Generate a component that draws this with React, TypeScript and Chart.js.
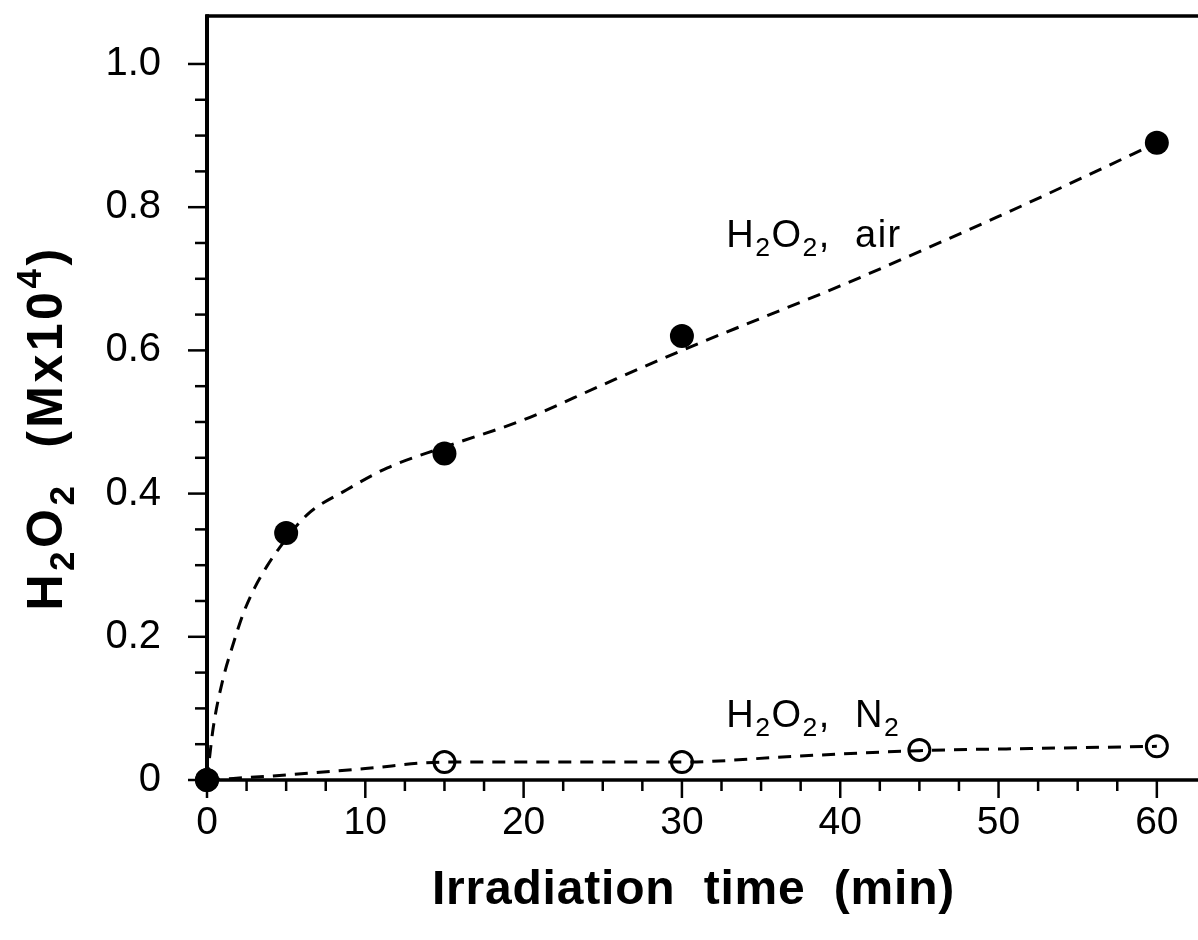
import React, { useEffect, useRef } from "react";
import { Chart, registerables } from "chart.js";

Chart.register(...registerables);

// Measured points
const airTimes = [0, 5, 15, 30, 60];
const airValues = [0, 0.345, 0.456, 0.62, 0.89];
const n2Times = [0, 15, 30, 45, 60];
const n2Values = [0, 0.025, 0.025, 0.042, 0.047];

// Dashed fitted curves
const airFitTimes = [0, 0.4, 1, 1.6, 2.3, 3, 3.8, 4.6, 6.3, 8.8, 11.4, 15, 20, 25, 30, 35, 40, 45, 50, 55, 60];
const airFitValues = [0, 0.074, 0.14, 0.186, 0.233, 0.268, 0.299, 0.325, 0.37, 0.405, 0.436, 0.465, 0.503, 0.552, 0.6, 0.645, 0.69, 0.738, 0.787, 0.838, 0.89];
const n2FitTimes = [0, 5, 10, 15, 22, 30, 37, 45, 52, 60];
const n2FitValues = [0, 0.007, 0.016, 0.025, 0.025, 0.025, 0.033, 0.041, 0.044, 0.047];

// Axes
const xMin = 0;
const xMax = 62.6;
const yMin = 0;
const yMax = 1.067;
const xMajorTicks = [0, 10, 20, 30, 40, 50, 60];
const xMinorStep = 2.5;
const yMajorTicks = [0, 0.2, 0.4, 0.6, 0.8, 1.0];
const yTickLabels = ["0", "0.2", "0.4", "0.6", "0.8", "1.0"];
const yMinorStep = 0.05;

// Text labels
type Seg = { t: string; sub?: boolean; sup?: boolean };
const airLabel: Seg[] = [{ t: "H" }, { t: "2", sub: true }, { t: "O" }, { t: "2", sub: true }, { t: ",  air" }];
const n2Label: Seg[] = [{ t: "H" }, { t: "2", sub: true }, { t: "O" }, { t: "2", sub: true }, { t: ",  N" }, { t: "2", sub: true }];
const airLabelAt = { x: 32.8, y: 0.744 };
const n2LabelAt = { x: 32.8, y: 0.074 };
const xTitle: Seg[] = [{ t: "Irradiation  time  (min)" }];
const yTitle: Seg[] = [{ t: "H" }, { t: "2", sub: true }, { t: "O" }, { t: "2", sub: true }, { t: "  (Mx10" }, { t: "4", sup: true }, { t: ")" }];

const FONT = "'Liberation Sans', Arial, Helvetica, sans-serif";

function segWidth(ctx: CanvasRenderingContext2D, segs: Seg[], size: number, weight: string, spacing: number) {
  let w = 0;
  for (const s of segs) {
    const fs = s.sub || s.sup ? size * 0.7 : size;
    ctx.font = `${weight} ${fs}px ${FONT}`;
    (ctx as any).letterSpacing = `${spacing}px`;
    w += ctx.measureText(s.t).width;
  }
  return w;
}

function drawRich(
  ctx: CanvasRenderingContext2D,
  segs: Seg[],
  x: number,
  y: number,
  size: number,
  weight: string,
  spacing: number,
  align: "left" | "center"
) {
  const total = segWidth(ctx, segs, size, weight, spacing);
  let cx = align === "center" ? x - total / 2 : x;
  ctx.textBaseline = "alphabetic";
  ctx.textAlign = "left";
  ctx.fillStyle = "#000";
  for (const s of segs) {
    const fs = s.sub || s.sup ? size * 0.7 : size;
    ctx.font = `${weight} ${fs}px ${FONT}`;
    (ctx as any).letterSpacing = `${spacing}px`;
    const dy = s.sub ? size * 0.24 : s.sup ? -size * 0.42 : 0;
    ctx.fillText(s.t, cx, y + dy);
    cx += ctx.measureText(s.t).width;
  }
  (ctx as any).letterSpacing = "0px";
}

const framePlugin = {
  id: "frame",
  beforeDatasetsDraw(chart: any) {
    const { ctx, chartArea } = chart;
    const xs = chart.scales.x;
    const ys = chart.scales.y;
    const { left, top, right, bottom } = chartArea;
    ctx.save();
    ctx.strokeStyle = "#000";
    ctx.lineCap = "butt";
    ctx.lineWidth = 2.5;
    for (let v = 0; v <= 60 + 1e-9; v += xMinorStep) {
      const px = xs.getPixelForValue(v);
      const major = Math.abs(v / 10 - Math.round(v / 10)) < 1e-6;
      ctx.beginPath();
      ctx.moveTo(px, bottom);
      ctx.lineTo(px, bottom + (major ? 18 : 11));
      ctx.stroke();
    }
    for (let v = 0; v <= 1.0 + 1e-9; v += yMinorStep) {
      const py = ys.getPixelForValue(v);
      const major = Math.abs(v / 0.2 - Math.round(v / 0.2)) < 1e-6;
      ctx.beginPath();
      ctx.moveTo(left, py);
      ctx.lineTo(left - (major ? 19 : 12), py);
      ctx.stroke();
    }
    ctx.lineWidth = 3.5;
    ctx.beginPath();
    ctx.moveTo(left - 1, top);
    ctx.lineTo(right + 2, top);
    ctx.stroke();
    ctx.beginPath();
    ctx.moveTo(left - 1, bottom);
    ctx.lineTo(right + 2, bottom);
    ctx.stroke();
    ctx.lineWidth = 4;
    ctx.beginPath();
    ctx.moveTo(left, top - 1.75);
    ctx.lineTo(left, bottom + 1.75);
    ctx.stroke();
    ctx.restore();
  },
  afterDraw(chart: any) {
    const { ctx, chartArea } = chart;
    const xs = chart.scales.x;
    const ys = chart.scales.y;
    ctx.save();
    drawRich(ctx, airLabel, xs.getPixelForValue(airLabelAt.x), ys.getPixelForValue(airLabelAt.y), 38, "normal", 1.5, "left");
    drawRich(ctx, n2Label, xs.getPixelForValue(n2LabelAt.x), ys.getPixelForValue(n2LabelAt.y), 38, "normal", 1.5, "left");
    drawRich(ctx, xTitle, chartArea.left + (chartArea.right - chartArea.left) / 2 - 9, chartArea.bottom + 124, 48, "bold", 0.8, "center");
    ctx.save();
    ctx.translate(62, (chartArea.top + chartArea.bottom) / 2 + 30);
    ctx.rotate(-Math.PI / 2);
    drawRich(ctx, yTitle, 0, 0, 50, "bold", 3.5, "center");
    ctx.restore();
    ctx.restore();
  },
};

export default function App() {
  const canvasRef = useRef<HTMLCanvasElement | null>(null);

  useEffect(() => {
    const canvas = canvasRef.current;
    if (!canvas) return;
    const toXY = (xs: number[], ys: number[]) => xs.map((x, i) => ({ x, y: ys[i] }));
    const chart = new Chart(canvas, {
      type: "scatter",
      data: {
        datasets: [
          {
            label: "H2O2, air (points)",
            data: toXY(airTimes, airValues),
            showLine: false,
            pointRadius: 12,
            pointBackgroundColor: "#000",
            pointBorderColor: "#000",
            pointBorderWidth: 0,
            clip: false as any,
            order: 1,
          },
          {
            label: "H2O2, N2 (points)",
            data: toXY(n2Times, n2Values),
            showLine: false,
            pointRadius: 10.5,
            pointBackgroundColor: "rgba(0,0,0,0)",
            pointBorderColor: "#000",
            pointBorderWidth: 3,
            clip: false as any,
            order: 2,
          },
          {
            label: "air fit",
            data: toXY(airFitTimes, airFitValues),
            showLine: true,
            borderColor: "#000",
            borderWidth: 3,
            borderDash: [13, 9],
            pointRadius: 0,
            cubicInterpolationMode: "monotone",
            fill: false,
            clip: false as any,
            order: 3,
          },
          {
            label: "N2 fit",
            data: toXY(n2FitTimes, n2FitValues),
            showLine: true,
            borderColor: "#000",
            borderWidth: 3,
            borderDash: [13, 9],
            pointRadius: 0,
            cubicInterpolationMode: "monotone",
            fill: false,
            clip: false as any,
            order: 4,
          },
        ],
      },
      options: {
        animation: false,
        responsive: true,
        maintainAspectRatio: false,
        layout: { autoPadding: false, padding: { top: 16, right: 0, left: 0, bottom: 0 } },
        plugins: {
          legend: { display: false },
          tooltip: { enabled: false },
          title: { display: false },
        },
        scales: {
          x: {
            type: "linear",
            min: xMin,
            max: xMax,
            grid: { display: false },
            border: { display: false },
            afterBuildTicks: (scale: any) => {
              scale.ticks = xMajorTicks.map((v) => ({ value: v }));
            },
            afterFit: (scale: any) => {
              scale.height = 160;
              scale.paddingLeft = 0;
              scale.paddingRight = 0;
            },
            ticks: {
              padding: 12,
              color: "#000",
              font: { family: FONT, size: 39 },
              maxRotation: 0,
              autoSkip: false,
              callback: (v: any) => String(v),
            },
          },
          y: {
            type: "linear",
            min: yMin,
            max: yMax,
            grid: { display: false },
            border: { display: false },
            afterBuildTicks: (scale: any) => {
              scale.ticks = yMajorTicks.map((v) => ({ value: v }));
            },
            afterFit: (scale: any) => {
              scale.width = 207;
              scale.paddingTop = 0;
              scale.paddingBottom = 0;
            },
            ticks: {
              padding: 38,
              color: "#000",
              font: { family: FONT, size: 40 },
              autoSkip: false,
              callback: (v: any) => {
                const i = yMajorTicks.findIndex((t) => Math.abs(t - Number(v)) < 1e-9);
                return i >= 0 ? yTickLabels[i] : "";
              },
            },
          },
        },
      },
      plugins: [framePlugin],
    });
    return () => chart.destroy();
  }, []);

  return (
    <div style={{ position: "absolute", left: 0, top: 0, width: 1198, height: 940, background: "#fff" }}>
      <canvas ref={canvasRef} />
    </div>
  );
}
